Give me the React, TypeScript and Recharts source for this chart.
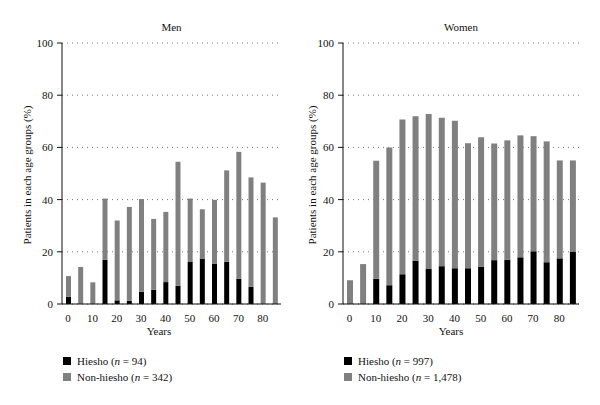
import { BarChart, Bar, XAxis, YAxis, CartesianGrid } from "recharts";

const ages = [0, 5, 10, 15, 20, 25, 30, 35, 40, 45, 50, 55, 60, 65, 70, 75, 80, 85];
const boundaryTicks = [0, 1, 2, 3, 4, 5, 6, 7, 8, 9, 10, 11, 12, 13, 14, 15, 16, 17, 18];
const yTicks = [0, 20, 40, 60, 80, 100];

// Men (% of patients in each age group)
const menHiesho = [2.8, 0, 0, 17.0, 1.4, 1.2, 4.7, 5.5, 8.4, 7.0, 16.1, 17.4, 15.5, 16.2, 9.7, 6.6, 0, 0];
const menNonHiesho = [7.9, 14.2, 8.3, 23.4, 30.6, 36.0, 35.5, 27.1, 26.9, 47.5, 24.3, 18.9, 24.4, 35.0, 48.6, 41.9, 46.5, 33.2];

// Women
const womenHiesho = [0, 0, 9.7, 7.2, 11.4, 16.6, 13.4, 14.5, 13.7, 13.7, 14.3, 16.8, 17.0, 17.9, 20.2, 16.0, 17.5, 20.1];
const womenNonHiesho = [9.1, 15.3, 45.2, 52.8, 59.3, 55.3, 59.4, 56.9, 56.5, 47.9, 49.6, 44.7, 45.7, 46.7, 44.1, 46.3, 37.5, 34.9];

const BLACK = "#000000";
const GRAY = "#808080";
const FONT = "'Liberation Serif', 'DejaVu Serif', serif";

interface PanelProps {
  title: string;
  left: number;
  hiesho: number[];
  nonHiesho: number[];
  yAxisWidth: number;
  marginRight: number;
  barSize: number;
  yLabelX: number;
  yearsX: number;
  nHiesho: string;
  nNon: string;
}

function Panel(p: PanelProps) {
  const data = ages.map((a, i) => ({ age: a, hiesho: p.hiesho[i], non: p.nonHiesho[i] }));
  const plotLeft = p.yAxisWidth;
  const plotRight = 300 - p.marginRight;
  const titleX = (plotLeft + plotRight) / 2;

  return (
    <>
      <div style={{ position: "absolute", left: p.left, top: 0 }}>
        <BarChart
          width={300}
          height={340}
          data={data}
          margin={{ top: 43, right: p.marginRight, bottom: 6, left: 0 }}
          barCategoryGap={0}
        >
          <CartesianGrid vertical={false} strokeDasharray="1 4" stroke="#777" />
          <XAxis
            xAxisId="b"
            type="number"
            domain={[0, 18]}
            allowDataOverflow
            ticks={boundaryTicks}
            tick={false}
            axisLine={false}
            tickLine={{ stroke: "#111" }}
            tickSize={4}
            height={0}
          />
          <XAxis
            xAxisId="cat"
            dataKey="age"
            interval={0}
            height={30}
            tickLine={false}
            axisLine={{ stroke: "#111" }}
            tickMargin={4}
            tick={{ fontSize: 11, fill: "#111" }}
            tickFormatter={(v) => (v % 10 === 0 ? String(v) : "")}
          />
          <YAxis
            width={p.yAxisWidth}
            domain={[0, 100]}
            ticks={yTicks}
            tickSize={5}
            tickMargin={4}
            axisLine={{ stroke: "#111" }}
            tickLine={{ stroke: "#111" }}
            tick={{ fontSize: 11, fill: "#111" }}
          />
          <Bar xAxisId="cat" dataKey="hiesho" stackId="s" fill={BLACK} barSize={p.barSize} isAnimationActive={false} />
          <Bar xAxisId="cat" dataKey="non" stackId="s" fill={GRAY} barSize={p.barSize} isAnimationActive={false} />
        </BarChart>
      </div>
      <svg
        width={300}
        height={340}
        style={{ position: "absolute", left: p.left, top: 0, pointerEvents: "none" }}
        fontFamily={FONT}
        fontSize={11}
        fill="#111"
      >
        <text x={titleX} y={27} textAnchor="middle" dominantBaseline="central">
          {p.title}
        </text>
        <text
          x={p.yLabelX}
          y={175}
          transform={`rotate(-90 ${p.yLabelX} 175)`}
          textAnchor="middle"
          dominantBaseline="central"
        >
          Patients in each age groups (%)
        </text>
        <text x={p.yearsX} y={331} textAnchor="middle" dominantBaseline="central">
          Years
        </text>
      </svg>
      <LegendBox x={p.left + plotLeft + 1} color={BLACK} y={357} label="Hiesho" n={p.nHiesho} />
      <LegendBox x={p.left + plotLeft + 1} color={GRAY} y={373} label="Non-hiesho" n={p.nNon} />
    </>
  );
}

function LegendBox({ x, y, color, label, n }: { x: number; y: number; color: string; label: string; n: string }) {
  return (
    <div
      style={{
        position: "absolute",
        left: x,
        top: y - 4,
        height: 16,
        display: "flex",
        alignItems: "center",
        fontSize: 11,
        lineHeight: "16px",
        color: "#111",
      }}
    >
      <span style={{ display: "inline-block", width: 8, height: 8, background: color, marginRight: 6 }} />
      <span>
        {label} (<i>n</i> = {n})
      </span>
    </div>
  );
}

export default function App() {
  return (
    <div style={{ position: "absolute", left: 0, top: 0, width: 600, height: 405, background: "#fff", fontFamily: FONT }}>
      <Panel
        title="Men"
        left={0}
        hiesho={menHiesho}
        nonHiesho={menNonHiesho}
        yAxisWidth={62}
        marginRight={19}
        barSize={5}
        yLabelX={27}
        yearsX={159}
        nHiesho="94"
        nNon="342"
      />
      <Panel
        title="Women"
        left={300}
        hiesho={womenHiesho}
        nonHiesho={womenNonHiesho}
        yAxisWidth={43}
        marginRight={21}
        barSize={6}
        yLabelX={12}
        yearsX={151}
        nHiesho="997"
        nNon="1,478"
      />
    </div>
  );
}
